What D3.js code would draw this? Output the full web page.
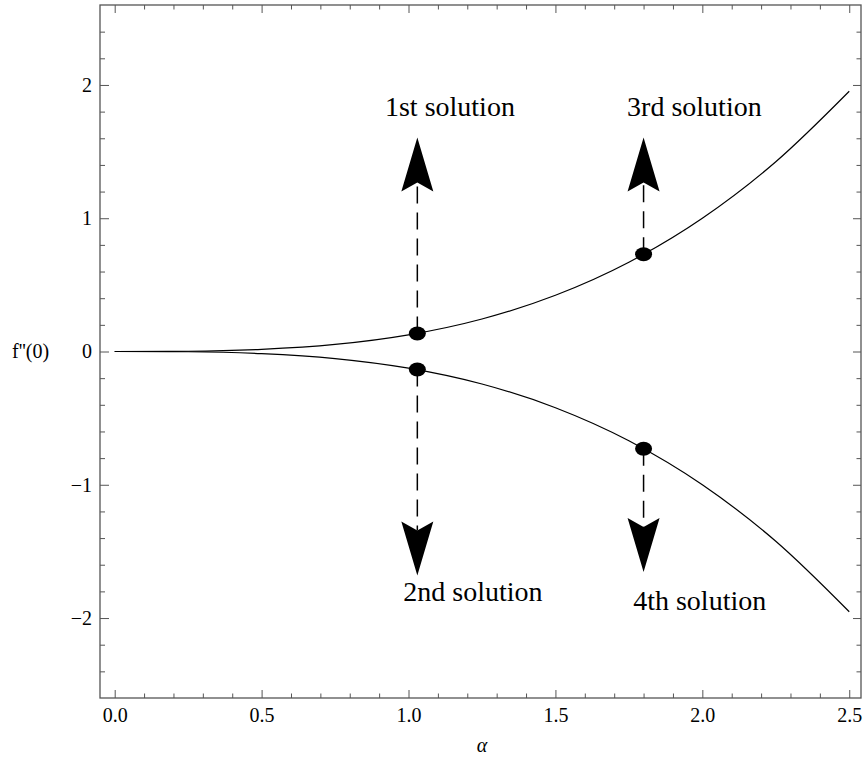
<!DOCTYPE html>
<html>
<head>
<meta charset="utf-8">
<script src="https://cdn.jsdelivr.net/npm/d3@7"></script>
<style>
  body { margin: 0; background: #fff; }
  text { font-family: "Liberation Serif", "Times New Roman", serif; }
</style>
</head>
<body>
<div id="wrapper"></div>
<script>
// values
const alphaValues = [0, 0.25, 0.5, 0.75, 1.0, 1.25, 1.5, 1.75, 2.0, 2.25, 2.5]
const upperBranch = [0, 0.002, 0.016, 0.053, 0.125, 0.244, 0.422, 0.670, 1.0, 1.424, 1.953]
const lowerBranch = [0, -0.002, -0.016, -0.053, -0.125, -0.244, -0.422, -0.670, -1.0, -1.424, -1.953]

// marked solutions: alpha, f''(0), arrow tip
const solutionAlpha = [1.03, 1.03, 1.80, 1.80]
const solutionValue = [0.135, -0.135, 0.73, -0.73]
const arrowTip = [1.605, -1.68, 1.605, -1.655]

const labelText = ["1st solution", "2nd solution", "3rd solution", "4th solution"]
const labelAlpha = [1.141, 1.219, 1.973, 1.991]
const labelValue = [1.764, -1.87, 1.77, -1.94]

const xMajorTicks = [0, 0.5, 1.0, 1.5, 2.0, 2.5]
const yMajorTicks = [-2, -1, 0, 1, 2]

function drawChart() {
  const dimensions = {
    width: 866,
    height: 767,
    margin: { top: 5, right: 5, bottom: 69, left: 100 },
  }
  dimensions.boundedWidth = dimensions.width - dimensions.margin.left - dimensions.margin.right
  dimensions.boundedHeight = dimensions.height - dimensions.margin.top - dimensions.margin.bottom

  const wrapper = d3.select("#wrapper")
    .append("svg")
      .attr("width", dimensions.width)
      .attr("height", dimensions.height)

  const bounds = wrapper.append("g")
      .attr("transform", `translate(${dimensions.margin.left},${dimensions.margin.top})`)

  // scales
  const xScale = d3.scaleLinear()
    .domain([-0.05, 2.54])
    .range([0, dimensions.boundedWidth])

  const yScale = d3.scaleLinear()
    .domain([-2.6, 2.6])
    .range([dimensions.boundedHeight, 0])

  const xMinor = d3.range(0, 2.51, 0.1).map(d => +d.toFixed(1)).filter(d => !xMajorTicks.includes(d))
  const yMinor = d3.range(-2.4, 2.41, 0.2).map(d => +d.toFixed(1)).filter(d => !yMajorTicks.includes(d))

  const frameColor = "#555"

  // axes, ticks pointing inward on all four sides
  const addAxis = (axis, transform, showLabels) => {
    const g = bounds.append("g")
      .attr("transform", transform)
      .call(axis)
    g.select(".domain").remove()
    g.selectAll(".tick line").attr("stroke", frameColor)
    g.selectAll("text")
      .style("font-family", '"Liberation Serif", "Times New Roman", serif')
      .style("font-size", "20px")
      .attr("fill", "#000")
    if (!showLabels) g.selectAll("text").remove()
    return g
  }

  const fmtX = d3.format(".1f")
  const fmtY = d => d3.format("d")(d).replace("-", "\u2212")

  addAxis(d3.axisBottom(xScale).tickValues(xMajorTicks).tickSize(-8).tickPadding(10).tickFormat(fmtX),
    `translate(0,${dimensions.boundedHeight})`, true)
  addAxis(d3.axisBottom(xScale).tickValues(xMinor).tickSize(-4.5).tickFormat(""),
    `translate(0,${dimensions.boundedHeight})`, false)
  addAxis(d3.axisTop(xScale).tickValues(xMajorTicks).tickSize(-8).tickFormat(""), "translate(0,0)", false)
  addAxis(d3.axisTop(xScale).tickValues(xMinor).tickSize(-4.5).tickFormat(""), "translate(0,0)", false)

  addAxis(d3.axisLeft(yScale).tickValues(yMajorTicks).tickSize(-9).tickPadding(8).tickFormat(fmtY),
    "translate(0,0)", true)
  addAxis(d3.axisLeft(yScale).tickValues(yMinor).tickSize(-5).tickFormat(""), "translate(0,0)", false)
  addAxis(d3.axisRight(yScale).tickValues(yMajorTicks).tickSize(-8).tickFormat(""),
    `translate(${dimensions.boundedWidth},0)`, false)
  addAxis(d3.axisRight(yScale).tickValues(yMinor).tickSize(-4.5).tickFormat(""),
    `translate(${dimensions.boundedWidth},0)`, false)

  // frame
  bounds.append("rect")
    .attr("width", dimensions.boundedWidth)
    .attr("height", dimensions.boundedHeight)
    .attr("fill", "none")
    .attr("stroke", frameColor)
    .attr("stroke-width", 1.3)

  // curves
  const lineGenerator = d3.line()
    .x(d => xScale(d[0]))
    .y(d => yScale(d[1]))
    .curve(d3.curveMonotoneX)

  ;[upperBranch, lowerBranch].forEach(branch => {
    bounds.append("path")
      .attr("d", lineGenerator(alphaValues.map((a, i) => [a, branch[i]])))
      .attr("fill", "none")
      .attr("stroke", "#000")
      .attr("stroke-width", 1.2)
  })

  // dashed arrows from each solution point
  const headLength = 54
  const headHalfWidth = 16
  const notchDepth = 9

  solutionAlpha.forEach((a, i) => {
    const x = xScale(a)
    const y0 = yScale(solutionValue[i])
    const yTip = yScale(arrowTip[i])
    const dir = yTip < y0 ? -1 : 1
    const yBack = yTip - dir * headLength
    const yNotch = yBack + dir * notchDepth

    bounds.append("line")
      .attr("x1", x).attr("x2", x)
      .attr("y1", y0).attr("y2", yNotch)
      .attr("stroke", "#000")
      .attr("stroke-width", 1.5)
      .attr("stroke-dasharray", "17,9")

    bounds.append("path")
      .attr("d", `M${x},${yTip} L${x + headHalfWidth},${yBack} L${x},${yNotch} L${x - headHalfWidth},${yBack} Z`)
      .attr("fill", "#000")
  })

  // solution points
  bounds.selectAll(".dot")
    .data(solutionAlpha)
    .join("ellipse")
      .attr("class", "dot")
      .attr("cx", d => xScale(d))
      .attr("cy", (d, i) => yScale(solutionValue[i]))
      .attr("rx", 8.5)
      .attr("ry", 7)
      .attr("fill", "#000")

  // labels
  bounds.selectAll(".label")
    .data(labelText)
    .join("text")
      .attr("class", "label")
      .attr("x", (d, i) => xScale(labelAlpha[i]))
      .attr("y", (d, i) => yScale(labelValue[i]))
      .attr("text-anchor", "middle")
      .style("font-size", "28px")
      .text(d => d)

  // axis titles
  wrapper.append("text")
    .attr("x", dimensions.margin.left + xScale(1.25))
    .attr("y", 752)
    .attr("text-anchor", "middle")
    .style("font-size", "20px")
    .style("font-style", "italic")
    .text("\u03b1")

  wrapper.append("text")
    .attr("x", 12)
    .attr("y", dimensions.margin.top + yScale(0))
    .attr("dy", "0.32em")
    .style("font-size", "20px")
    .text("f''(0)")
}

drawChart()
</script>
</body>
</html>
